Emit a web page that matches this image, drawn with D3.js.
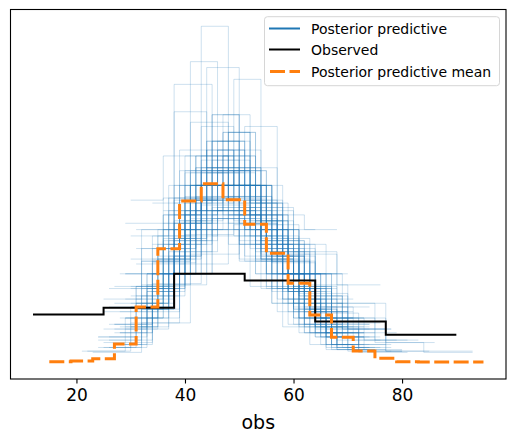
<!DOCTYPE html>
<html><head><meta charset="utf-8">
<script src="https://cdn.jsdelivr.net/npm/d3@7"></script>
<style>body{margin:0;background:#fff} svg{display:block} text{font-family:"DejaVu Sans",sans-serif}</style>
</head><body><svg id="c" width="515" height="443"></svg>
<script>
// ---------------- data ----------------
const xTicks = [20, 40, 60, 80];
const xLabel = "obs";
const legendLabels = ["Posterior predictive", "Observed", "Posterior predictive mean"];

const observedEdges = [12, 25, 38, 51, 64, 77, 90];
const observedDensity = [0.0108, 0.0123, 0.0200, 0.0185, 0.0092, 0.0062];

const meanEdges = [15, 19, 23, 27, 31, 35, 39, 43, 47, 51, 55, 59, 63, 67, 71, 75, 79, 83, 87, 91, 95];
const meanDensity = [0.00011, 0.00027, 0.00079, 0.00412, 0.0125, 0.02565, 0.03645, 0.04037, 0.03675, 0.03124,
                     0.02467, 0.01788, 0.01069, 0.00564, 0.00254, 0.00088, 0.00011, 0.00007, 0.00005, 0.00005];

// posterior predictive draws: [first bin edge, bin width, counts per bin] (50 values per draw)
const ppSampleSize = 50;
const ppSamples = [
  [28, 5, [2, 4, 8, 19, 9, 5, 2, 1]],
  [31, 5, [3, 7, 17, 10, 6, 4, 2, 1]],
  [26, 6, [1, 5, 9, 20, 8, 4, 2, 1]],
  [24, 7, [2, 6, 22, 10, 6, 3, 1]],
  [29, 5, [1, 3, 5, 9, 16, 8, 4, 2, 2]],
  [32, 6, [4, 17, 12, 8, 5, 3, 1]],
  [27, 7, [3, 8, 19, 11, 6, 3]],
  [31, 6, [4, 9, 16, 10, 6, 3, 2]],
  [27, 6, [1, 3, 6, 10, 16, 8, 4, 2]],
  [30, 7, [10, 13, 12, 8, 5, 2]],
  [30, 6, [11, 14, 12, 8, 5]],
  [34, 5, [9, 12, 11, 8, 6, 4]],
  [29, 7, [11, 13, 12, 8, 4, 2]],
  [31, 6, [9, 12, 13, 9, 5, 2]],
  [26, 6, [5, 9, 12, 11, 7, 4, 2]],
  [25, 7, [4, 9, 14, 12, 7, 3, 1]],
  [22, 8, [1, 5, 11, 14, 10, 6, 3]],
  [24, 7, [2, 6, 11, 14, 9, 5, 2, 1]],
  [25, 8, [3, 7, 13, 13, 8, 4, 2]],
  [23, 9, [1, 4, 11, 15, 11, 6, 2]],
  [30, 9, [4, 10, 15, 12, 6, 2, 1]],
  [27, 8, [3, 8, 13, 12, 8, 4, 2]],
  [35, 6, [7, 13, 12, 9, 6, 3]],
  [33, 7, [6, 12, 14, 10, 6, 2]],
  [36, 5, [5, 10, 12, 10, 7, 4, 2]],
  [30, 5, [2, 4, 8, 11, 10, 8, 5, 2]],
  [37, 6, [8, 12, 13, 9, 5, 3]],
  [28, 6, [2, 5, 10, 13, 10, 6, 3, 1]],
  [32, 7, [4, 10, 15, 12, 6, 3]],
  [34, 6, [5, 11, 14, 10, 6, 4]],
  [38, 5, [9, 11, 10, 8, 7, 5]],
  [26, 7, [3, 7, 12, 13, 9, 5, 1]],
  [33, 5, [4, 7, 10, 11, 8, 5, 3, 2]],
  [29, 6, [3, 7, 11, 12, 9, 5, 3]],
  [36, 8, [7, 12, 14, 10, 7]],
  [40, 6, [11, 13, 12, 8, 6]],
  [27, 5, [1, 3, 5, 8, 11, 9, 6, 4, 2, 1]],
  [31, 8, [6, 12, 15, 10, 5, 2]],
  [24, 6, [1, 3, 7, 11, 12, 8, 5, 2, 1]],
  [34, 7, [8, 13, 14, 9, 4, 2]],
  [25, 9, [2, 8, 16, 14, 7, 3]],
  [30, 6, [5, 10, 12, 11, 7, 3, 2]],
  [39, 5, [7, 11, 12, 9, 6, 5]],
  [28, 7, [4, 9, 13, 12, 8, 4]],
  [29, 8, [3, 8, 13, 12, 8, 4, 1, 1]],
  [21, 8, [1, 4, 10, 14, 11, 6, 3, 1]],
  [32, 5, [3, 6, 11, 14, 8, 5, 2, 1]],
  [35, 5, [6, 10, 14, 9, 6, 3, 2]],
  [28, 6, [2, 6, 13, 15, 8, 4, 2]],
  [33, 6, [6, 13, 15, 9, 5, 2]],
  [30, 5, [2, 5, 9, 14, 10, 6, 3, 1]],
  [26, 7, [2, 7, 15, 14, 8, 3, 1]],
  [31, 7, [5, 13, 16, 10, 4, 2]],
  [29, 6, [3, 8, 12, 14, 7, 4, 2]],
  [37, 5, [7, 11, 13, 9, 6, 3, 1]],
  [34, 6, [7, 14, 13, 9, 5, 2]],
  [27, 6, [2, 5, 11, 15, 9, 5, 2, 1]],
  [32, 6, [5, 11, 15, 10, 6, 3]],
  [36, 6, [9, 14, 13, 8, 4, 2]],
  [30, 7, [6, 12, 15, 10, 5, 2]],
  [33, 5, [3, 6, 10, 13, 9, 5, 3, 1]],
  [28, 5, [1, 3, 6, 10, 13, 9, 4, 2, 1, 1]],
  [31, 5, [3, 5, 10, 12, 10, 6, 3, 1]],
  [35, 7, [9, 14, 14, 8, 4, 1]],
  [25, 6, [1, 4, 7, 12, 13, 8, 3, 2]],
  [38, 6, [10, 15, 12, 8, 5]],
  [29, 7, [5, 11, 16, 11, 5, 2]],
  [32, 8, [7, 15, 15, 9, 3, 1]],
  [27, 7, [3, 9, 15, 13, 7, 3]],
  [34, 5, [5, 8, 12, 11, 7, 4, 2, 1]],
  [30, 6, [4, 9, 14, 12, 7, 3, 1]],
  [36, 7, [11, 15, 12, 8, 4]],
  [26, 8, [2, 8, 15, 14, 8, 3]],
  [33, 6, [5, 10, 13, 11, 7, 4]],
  [29, 5, [2, 4, 7, 12, 11, 8, 4, 2]],
  [31, 6, [4, 10, 14, 11, 7, 3, 1]],
  [35, 6, [6, 12, 14, 10, 5, 3]],
  [28, 8, [4, 11, 16, 12, 5, 2]],
  [32, 5, [2, 5, 9, 13, 11, 6, 3, 1]],
  [24, 8, [2, 6, 12, 15, 10, 4, 1]],
  [37, 6, [9, 13, 12, 9, 5, 2]],
  [30, 8, [5, 12, 16, 11, 5, 1]],
  [29, 8, [8, 11, 12, 10, 6, 3]],
  [31, 7, [9, 11, 12, 10, 6, 2]],
  [27, 7, [6, 10, 11, 11, 7, 5]],
  [38, 6, [8, 11, 12, 10, 9]],
  [30, 6, [7, 10, 12, 10, 7, 4]],
  [26, 8, [5, 9, 12, 11, 8, 5]],
  [32, 7, [8, 12, 12, 9, 6, 3]],
  [28, 7, [7, 10, 12, 10, 7, 4]],
  [34, 6, [8, 10, 12, 11, 9]],
  [25, 7, [5, 8, 11, 12, 8, 4, 2]],
  [30, 8, [6, 10, 13, 11, 7, 3]],
  [36, 7, [12, 13, 11, 9, 5]],
  [29, 6, [6, 9, 11, 10, 8, 6]],
  [31, 9, [10, 13, 14, 9, 4]],
  [27, 9, [6, 12, 15, 11, 5, 1]]
];

// ---------------- layout ----------------
const plot = {left: 10.5, right: 506, top: 9.5, bottom: 379};
const svg = d3.select("#c");

// matplotlib-style auto limits with 5% margins
const allX = observedEdges.concat(meanEdges);
const xMin = d3.min(allX), xMax = d3.max(allX);
const xPad = (xMax - xMin) * 0.05;
const x = d3.scaleLinear().domain([xMin - xPad, xMax + xPad]).range([plot.left, plot.right]);

const ppSeries = ppSamples.map(([x0, w, counts]) => {
  const edges = d3.range(counts.length + 1).map(k => x0 + k * w);
  const dens = counts.map(c => c / (ppSampleSize * w));
  return {edges, dens};
});
const yMaxData = d3.max([d3.max(observedDensity), d3.max(meanDensity), d3.max(ppSeries, s => d3.max(s.dens))]);
const y = d3.scaleLinear().domain([-0.05 * yMaxData, 1.05 * yMaxData]).range([plot.bottom, plot.top]);

const stepLine = d3.line().x(d => x(d[0])).y(d => y(d[1])).curve(d3.curveStepBefore);
const toPts = (edges, dens) => edges.map((e, i) => [e, i === 0 ? dens[0] : dens[i - 1]]);

svg.append("defs").append("clipPath").attr("id", "clip")
  .append("rect").attr("x", plot.left).attr("y", plot.top)
  .attr("width", plot.right - plot.left).attr("height", plot.bottom - plot.top);

const g = svg.append("g").attr("clip-path", "url(#clip)");

g.selectAll("path.pp").data(ppSeries).join("path").attr("class", "pp")
  .attr("d", s => stepLine(toPts(s.edges, s.dens)))
  .attr("fill", "none").attr("stroke", "#1f77b4").attr("stroke-opacity", 0.22).attr("stroke-width", 1);

g.append("path").attr("d", stepLine(toPts(observedEdges, observedDensity)))
  .attr("fill", "none").attr("stroke", "#000").attr("stroke-width", 2);

g.append("path").attr("d", stepLine(toPts(meanEdges, meanDensity)))
  .attr("fill", "none").attr("stroke", "#ff7f0e").attr("stroke-width", 3)
  .attr("stroke-dasharray", "15,4.5");

// frame
svg.append("rect").attr("x", plot.left).attr("y", plot.top)
  .attr("width", plot.right - plot.left).attr("height", plot.bottom - plot.top)
  .attr("fill", "none").attr("stroke", "#000").attr("stroke-width", 1.1);

// x axis
const xAxis = d3.axisBottom(x).tickValues(xTicks).tickSize(4.5).tickPadding(5);
const ax = svg.append("g").attr("transform", `translate(0,${plot.bottom})`).call(xAxis);
ax.select(".domain").remove();
ax.selectAll("line").attr("stroke", "#000").attr("stroke-width", 1.1);
ax.selectAll("text").attr("font-size", 17).attr("fill", "#000").attr("font-family", "DejaVu Sans");

svg.append("text").attr("x", (plot.left + plot.right) / 2).attr("y", 429)
  .attr("text-anchor", "middle").attr("font-size", 19).attr("fill", "#000").text(xLabel);

// legend
const lg = svg.append("g");
lg.append("rect").attr("x", 264.5).attr("y", 16.7).attr("width", 235).attr("height", 69)
  .attr("rx", 3).attr("fill", "#fff").attr("fill-opacity", 0.8)
  .attr("stroke", "#d6d6d6").attr("stroke-width", 1);
const legStyles = [
  {stroke: "#1f77b4", w: 2, dash: null, x1: 269},
  {stroke: "#000", w: 2, dash: null, x1: 269},
  {stroke: "#ff7f0e", w: 3, dash: "15,4.5", x1: 270}
];
const rowY = [28.5, 49.5, 71.5];
legendLabels.forEach((lab, i) => {
  lg.append("line").attr("x1", legStyles[i].x1).attr("x2", 300).attr("y1", rowY[i]).attr("y2", rowY[i])
    .attr("stroke", legStyles[i].stroke).attr("stroke-width", legStyles[i].w)
    .attr("stroke-dasharray", legStyles[i].dash);
  lg.append("text").attr("x", 311).attr("y", rowY[i] + 5).attr("font-size", 14)
    .attr("fill", "#000").text(lab);
});
</script></body></html>
